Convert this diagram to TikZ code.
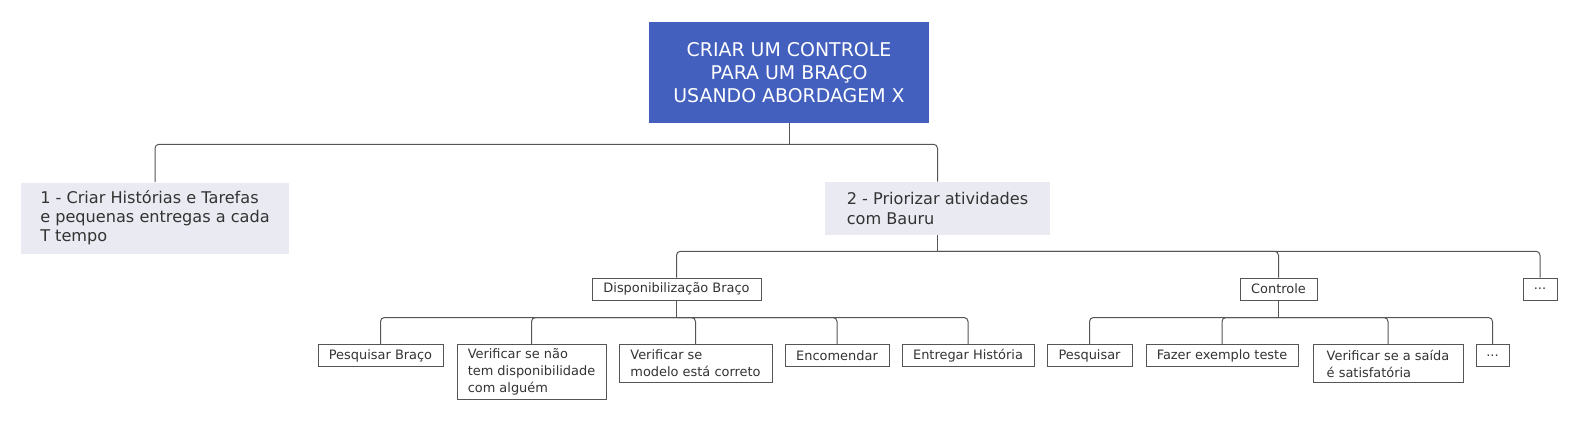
\documentclass[tikz,border=0pt]{standalone}
\usepackage{fontspec}
\setmainfont{DejaVu Sans}
\usetikzlibrary{positioning}
\definecolor{rootblue}{RGB}{67,96,190}
\definecolor{taskgray}{RGB}{234,235,242}
\definecolor{linegray}{RGB}{85,85,85}
\definecolor{textgray}{RGB}{51,51,51}
\tikzset{sz/.style 2 args={minimum width=#1*0.75pt, minimum height=#2*0.75pt}}
\tikzstyle{goal} = [rectangle, inner sep=0pt, fill=rootblue, text=white, align=center, font=\fontsize{14.2pt}{17.4pt}\selectfont]
\tikzstyle{task} = [rectangle, inner sep=0pt, fill=taskgray, text=textgray, align=left, font=\fontsize{12.1pt}{14.35pt}\selectfont]
\tikzstyle{item} = [rectangle, inner sep=0pt, draw=linegray, line width=0.75pt, fill=white, text=textgray, align=left, anchor=north, font=\fontsize{9.7pt}{12.85pt}\selectfont]
\tikzstyle{link} = [draw=linegray, line width=0.75pt, rounded corners=3pt]

\begin{document}
\begin{tikzpicture}[x=0.75pt, y=-0.75pt]
\useasboundingbox (0,0) rectangle (1577,421);

\node (root) [goal, sz={280}{101}] at (789,72.5) {CRIAR UM CONTROLE\\PARA UM BRAÇO\\USANDO ABORDAGEM X};

\node (t1) [task, sz={268}{71}] at (155,218) {1 - Criar Histórias e Tarefas\\e pequenas entregas a cada\\T tempo};
\node (t2) [task, sz={225}{53}] at (937.5,208.5) {2 - Priorizar atividades\\com Bauru};

% second level
\node (disp) [item, sz={169}{22}] at (676.5,277.5) {Disponibilização Braço};
\node (ctrl) [item, sz={77}{22}] at (1278.5,277.5) {Controle};
\node (more1) [item, sz={34}{22}] at (1540,277.5) {...};

% third level
\node (pbraco) [item, sz={125}{22}] at (380.5,344) {Pesquisar Braço};
\node (vdisp) [item, sz={149}{55}] at (531.5,344) {Verificar se não\\tem disponibilidade\\com alguém};
\node (vmod) [item, sz={153}{38}] at (695.5,344) {Verificar se\\modelo está correto};
\node (enc) [item, sz={104}{22}] at (837,344) {Encomendar};
\node (ent) [item, sz={132}{22}] at (968,344) {Entregar História};

\node (pesq) [item, sz={85}{22}] at (1089.5,344) {Pesquisar};
\node (fazer) [item, sz={152}{22}] at (1222,344) {Fazer exemplo teste};
\node (vsai) [item, sz={150}{38}] at (1388,344) {Verificar se a saída\\é satisfatória};
\node (more2) [item, sz={33}{22}] at (1492.5,344) {...};

% connectors
\path (root.south) ++(0,21) coordinate (rootbus);
\path (t2.south) ++(0,16) coordinate (t2bus);
\path (disp.south) ++(0,17) coordinate (dispbus);
\path (ctrl.south) ++(0,17) coordinate (ctrlbus);

\draw[link] (root.south) -- (rootbus);
\foreach \c in {t1,t2} \draw[link] (rootbus) -| (\c.north);

\draw[link] (t2.south) -- (t2bus);
\foreach \c in {disp,ctrl,more1} \draw[link] (t2bus) -| (\c.north);

\draw[link] (disp.south) -- (dispbus);
\foreach \c in {pbraco,vdisp,vmod,enc,ent} \draw[link] (dispbus) -| (\c.north);

\draw[link] (ctrl.south) -- (ctrlbus);
\foreach \c in {pesq,fazer,vsai,more2} \draw[link] (ctrlbus) -| (\c.north);

\end{tikzpicture}
\end{document}
